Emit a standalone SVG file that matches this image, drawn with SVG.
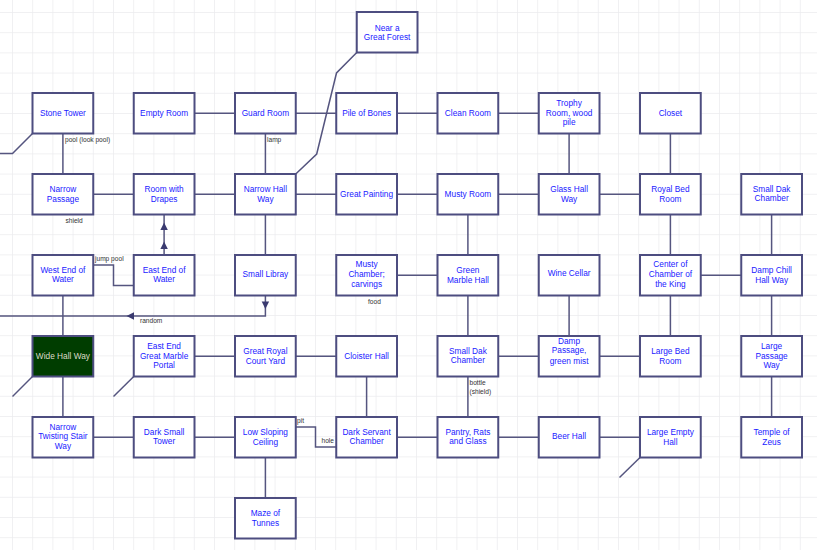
<svg xmlns="http://www.w3.org/2000/svg" width="817" height="550" viewBox="0 0 817 550">
<defs>
<pattern id="grid" patternUnits="userSpaceOnUse" x="12" y="12" width="20.2" height="20.2">
<path d="M0 0H20.2M0 0V20.2" fill="none" stroke="#ebebee" stroke-width="1.4"/>
</pattern>
<style>
.b{fill:#fff;stroke:#4d4d80;stroke-width:2}
.t{font-family:"Liberation Sans",Arial,sans-serif;font-size:8.3px;fill:#1a1aff;text-anchor:middle;dominant-baseline:central}
.c{fill:none;stroke:#55557f;stroke-width:1.5}
.l{font-family:"Liberation Sans",Arial,sans-serif;font-size:6.6px;fill:#333;dominant-baseline:central}
.ar{fill:#3a3a70}
</style>
</defs>
<rect width="817" height="550" fill="#fff"/>
<rect width="817" height="550" fill="url(#grid)"/>

<g id="connectors">
<!-- row 0 horizontals -->
<path class="c" d="M194.5 113.25H235"/>
<path class="c" d="M295.75 113.25H336.25"/>
<path class="c" d="M397 113.25H437.5"/>
<path class="c" d="M498.25 113.25H538.75"/>
<!-- row 1 horizontals -->
<path class="c" d="M93.25 194.25H133.75"/>
<path class="c" d="M194.5 194.25H235"/>
<path class="c" d="M295.75 194.25H336.25"/>
<path class="c" d="M397 194.25H437.5"/>
<path class="c" d="M498.25 194.25H538.75"/>
<path class="c" d="M599.5 194.25H640"/>
<!-- row 2 horizontals -->
<path class="c" d="M397 275.25H437.5"/>
<path class="c" d="M700.75 275.25H741.25"/>
<!-- row 3 horizontals -->
<path class="c" d="M194.5 356.25H235"/>
<path class="c" d="M295.75 356.25H336.25"/>
<path class="c" d="M498.25 356.25H538.75"/>
<path class="c" d="M599.5 356.25H640"/>
<!-- row 4 horizontals -->
<path class="c" d="M93.25 437.25H133.75"/>
<path class="c" d="M194.5 437.25H235"/>
<path class="c" d="M397 437.25H437.5"/>
<path class="c" d="M498.25 437.25H538.75"/>
<path class="c" d="M599.5 437.25H640"/>
<!-- verticals -->
<path class="c" d="M62.9 133.5V174"/>
<path class="c" d="M62.9 295.5V336"/>
<path class="c" d="M62.9 376.5V417"/>
<path class="c" d="M265.4 133.5V174"/>
<path class="c" d="M265.4 214.5V255"/>
<path class="c" d="M265.4 457.5V498"/>
<path class="c" d="M366.6 376.5V417"/>
<path class="c" d="M467.9 214.5V255"/>
<path class="c" d="M467.9 295.5V336"/>
<path class="c" d="M467.9 376.5V417"/>
<path class="c" d="M569.1 133.5V174"/>
<path class="c" d="M569.1 295.5V336"/>
<path class="c" d="M670.4 133.5V174"/>
<path class="c" d="M670.4 214.5V255"/>
<path class="c" d="M670.4 295.5V336"/>
<path class="c" d="M771.6 214.5V255"/>
<path class="c" d="M771.6 295.5V336"/>
<path class="c" d="M771.6 376.5V417"/>
<!-- arrows East End of Water up to Room with Drapes -->
<path class="c" d="M164.1 255V214.5"/>
<path class="ar" d="M164.1 222.5L160.4 230L167.8 230Z"/>
<path class="ar" d="M164.1 241.5L160.4 249L167.8 249Z"/>
<!-- random -->
<path class="c" d="M265.4 295.5V316H0"/>
<path class="ar" d="M265.4 309L261.7 301.5L269.1 301.5Z"/>
<path class="ar" d="M126.5 316L134 312.3L134 319.7Z"/>
<!-- jump pool -->
<path class="c" d="M93.25 265H113.5V285.5H133.75"/>
<!-- pit / hole -->
<path class="c" d="M295.75 427H315.5V447H336.25"/>
<!-- forest -->
<path class="c" d="M295.75 174L316.7 154L336.5 73L356.75 52.5"/>
<!-- stubs -->
<path class="c" d="M32.5 133.5L12.5 153.5H0"/>
<path class="c" d="M32.5 376.5L12.5 396.5"/>
<path class="c" d="M133.75 376.5L113.5 396.5"/>
<path class="c" d="M640 457.5L619.5 477.5"/>
<!-- labels -->
<text class="l" x="65" y="139.5">pool (look pool)</text>
<text class="l" x="65.5" y="220">shield</text>
<text class="l" x="267" y="139">lamp</text>
<text class="l" x="95" y="258.5">jump pool</text>
<text class="l" x="140" y="320.5">random</text>
<text class="l" x="368" y="301">food</text>
<text class="l" x="469.5" y="382">bottle</text>
<text class="l" x="469.5" y="391">(shield)</text>
<text class="l" x="297" y="420.5">pit</text>
<text class="l" x="321.5" y="440.5">hole</text>
</g>

<g id="near-a-great-forest"><rect class="b" x="356.75" y="12" width="60.75" height="40.5"/><text class="t" x="387.1"><tspan x="387.1" y="27.5">Near a</tspan><tspan x="387.1" y="37">Great Forest</tspan></text></g>

<g id="stone-tower"><rect class="b" x="32.5" y="93" width="60.75" height="40.5"/><text class="t" x="62.9" y="112.5">Stone Tower</text></g>
<g id="empty-room"><rect class="b" x="133.75" y="93" width="60.75" height="40.5"/><text class="t" x="164.1" y="112.5">Empty Room</text></g>
<g id="guard-room"><rect class="b" x="235" y="93" width="60.75" height="40.5"/><text class="t" x="265.4" y="112.5">Guard Room</text></g>
<g id="pile-of-bones"><rect class="b" x="336.25" y="93" width="60.75" height="40.5"/><text class="t" x="366.6" y="112.5">Pile of Bones</text></g>
<g id="clean-room"><rect class="b" x="437.5" y="93" width="60.75" height="40.5"/><text class="t" x="467.9" y="112.5">Clean Room</text></g>
<g id="trophy-room"><rect class="b" x="538.75" y="93" width="60.75" height="40.5"/><text class="t"><tspan x="569.1" y="103">Trophy</tspan><tspan x="569.1" y="112.5">Room, wood</tspan><tspan x="569.1" y="122.2">pile</tspan></text></g>
<g id="closet"><rect class="b" x="640" y="93" width="60.75" height="40.5"/><text class="t" x="670.4" y="112.5">Closet</text></g>

<g id="narrow-passage"><rect class="b" x="32.5" y="174" width="60.75" height="40.5"/><text class="t"><tspan x="62.9" y="189">Narrow</tspan><tspan x="62.9" y="198.7">Passage</tspan></text></g>
<g id="room-with-drapes"><rect class="b" x="133.75" y="174" width="60.75" height="40.5"/><text class="t"><tspan x="164.1" y="189">Room with</tspan><tspan x="164.1" y="198.7">Drapes</tspan></text></g>
<g id="narrow-hall-way"><rect class="b" x="235" y="174" width="60.75" height="40.5"/><text class="t"><tspan x="265.4" y="189">Narrow Hall</tspan><tspan x="265.4" y="198.7">Way</tspan></text></g>
<g id="great-painting"><rect class="b" x="336.25" y="174" width="60.75" height="40.5"/><text class="t" x="366.6" y="193.5">Great Painting</text></g>
<g id="musty-room"><rect class="b" x="437.5" y="174" width="60.75" height="40.5"/><text class="t" x="467.9" y="193.5">Musty Room</text></g>
<g id="glass-hall-way"><rect class="b" x="538.75" y="174" width="60.75" height="40.5"/><text class="t"><tspan x="569.1" y="189">Glass Hall</tspan><tspan x="569.1" y="198.7">Way</tspan></text></g>
<g id="royal-bed-room"><rect class="b" x="640" y="174" width="60.75" height="40.5"/><text class="t"><tspan x="670.4" y="189">Royal Bed</tspan><tspan x="670.4" y="198.7">Room</tspan></text></g>
<g id="small-dak-chamber-1"><rect class="b" x="741.25" y="174" width="60.75" height="40.5"/><text class="t"><tspan x="771.6" y="189">Small Dak</tspan><tspan x="771.6" y="198">Chamber</tspan></text></g>

<g id="west-end-of-water"><rect class="b" x="32.5" y="255" width="60.75" height="40.5"/><text class="t"><tspan x="62.9" y="270">West End of</tspan><tspan x="62.9" y="279">Water</tspan></text></g>
<g id="east-end-of-water"><rect class="b" x="133.75" y="255" width="60.75" height="40.5"/><text class="t"><tspan x="164.1" y="270">East End of</tspan><tspan x="164.1" y="279">Water</tspan></text></g>
<g id="small-libray"><rect class="b" x="235" y="255" width="60.75" height="40.5"/><text class="t" x="265.4" y="274.3">Small Libray</text></g>
<g id="musty-chamber"><rect class="b" x="336.25" y="255" width="60.75" height="40.5"/><text class="t"><tspan x="366.6" y="264.3">Musty</tspan><tspan x="366.6" y="274.3">Chamber;</tspan><tspan x="366.6" y="284.3">carvings</tspan></text></g>
<g id="green-marble-hall"><rect class="b" x="437.5" y="255" width="60.75" height="40.5"/><text class="t"><tspan x="467.9" y="270">Green</tspan><tspan x="467.9" y="279.5">Marble Hall</tspan></text></g>
<g id="wine-cellar"><rect class="b" x="538.75" y="255" width="60.75" height="40.5"/><text class="t" x="569.1" y="273">Wine Cellar</text></g>
<g id="center-of-chamber"><rect class="b" x="640" y="255" width="60.75" height="40.5"/><text class="t"><tspan x="670.4" y="264.3">Center of</tspan><tspan x="670.4" y="273.6">Chamber of</tspan><tspan x="670.4" y="284">the King</tspan></text></g>
<g id="damp-chill-hall-way"><rect class="b" x="741.25" y="255" width="60.75" height="40.5"/><text class="t"><tspan x="771.6" y="269.5">Damp Chill</tspan><tspan x="771.6" y="279.5">Hall Way</tspan></text></g>

<g id="wide-hall-way"><rect class="b" x="32.5" y="336" width="60.75" height="40.5" style="fill:#003d00"/><text class="t" x="62.9" y="355.5" style="fill:#dcdcc8">Wide Hall Way</text></g>
<g id="east-end-great-marble-portal"><rect class="b" x="133.75" y="336" width="60.75" height="40.5"/><text class="t"><tspan x="164.1" y="345.7">East End</tspan><tspan x="164.1" y="355.7">Great Marble</tspan><tspan x="164.1" y="365">Portal</tspan></text></g>
<g id="great-royal-court-yard"><rect class="b" x="235" y="336" width="60.75" height="40.5"/><text class="t"><tspan x="265.4" y="351">Great Royal</tspan><tspan x="265.4" y="360.5">Court Yard</tspan></text></g>
<g id="cloister-hall"><rect class="b" x="336.25" y="336" width="60.75" height="40.5"/><text class="t" x="366.6" y="355.5">Cloister Hall</text></g>
<g id="small-dak-chamber-2"><rect class="b" x="437.5" y="336" width="60.75" height="40.5"/><text class="t"><tspan x="467.9" y="350.7">Small Dak</tspan><tspan x="467.9" y="359.5">Chamber</tspan></text></g>
<g id="damp-passage"><rect class="b" x="538.75" y="336" width="60.75" height="40.5"/><text class="t"><tspan x="569.1" y="340.7">Damp</tspan><tspan x="569.1" y="350.3">Passage,</tspan><tspan x="569.1" y="360.7">green mist</tspan></text></g>
<g id="large-bed-room"><rect class="b" x="640" y="336" width="60.75" height="40.5"/><text class="t"><tspan x="670.4" y="351">Large Bed</tspan><tspan x="670.4" y="361">Room</tspan></text></g>
<g id="large-passage-way"><rect class="b" x="741.25" y="336" width="60.75" height="40.5"/><text class="t"><tspan x="771.6" y="345.7">Large</tspan><tspan x="771.6" y="355.7">Passage</tspan><tspan x="771.6" y="365">Way</tspan></text></g>

<g id="narrow-twisting-stair-way"><rect class="b" x="32.5" y="417" width="60.75" height="40.5"/><text class="t"><tspan x="62.9" y="426.7">Narrow</tspan><tspan x="62.9" y="436">Twisting Stair</tspan><tspan x="62.9" y="445.7">Way</tspan></text></g>
<g id="dark-small-tower"><rect class="b" x="133.75" y="417" width="60.75" height="40.5"/><text class="t"><tspan x="164.1" y="432">Dark Small</tspan><tspan x="164.1" y="441">Tower</tspan></text></g>
<g id="low-sloping-ceiling"><rect class="b" x="235" y="417" width="60.75" height="40.5"/><text class="t"><tspan x="265.4" y="432">Low Sloping</tspan><tspan x="265.4" y="441.5">Ceiling</tspan></text></g>
<g id="dark-servant-chamber"><rect class="b" x="336.25" y="417" width="60.75" height="40.5"/><text class="t"><tspan x="366.6" y="432">Dark Servant</tspan><tspan x="366.6" y="441">Chamber</tspan></text></g>
<g id="pantry-rats-and-glass"><rect class="b" x="437.5" y="417" width="60.75" height="40.5"/><text class="t"><tspan x="467.9" y="432">Pantry, Rats</tspan><tspan x="467.9" y="441">and Glass</tspan></text></g>
<g id="beer-hall"><rect class="b" x="538.75" y="417" width="60.75" height="40.5"/><text class="t" x="569.1" y="435.5">Beer Hall</text></g>
<g id="large-empty-hall"><rect class="b" x="640" y="417" width="60.75" height="40.5"/><text class="t"><tspan x="670.4" y="432">Large Empty</tspan><tspan x="670.4" y="441.5">Hall</tspan></text></g>
<g id="temple-of-zeus"><rect class="b" x="741.25" y="417" width="60.75" height="40.5"/><text class="t"><tspan x="771.6" y="432">Temple of</tspan><tspan x="771.6" y="441.5">Zeus</tspan></text></g>

<g id="maze-of-tunnes"><rect class="b" x="235" y="498" width="60.75" height="40.5"/><text class="t"><tspan x="265.4" y="513">Maze of</tspan><tspan x="265.4" y="522.5">Tunnes</tspan></text></g>
</svg>
